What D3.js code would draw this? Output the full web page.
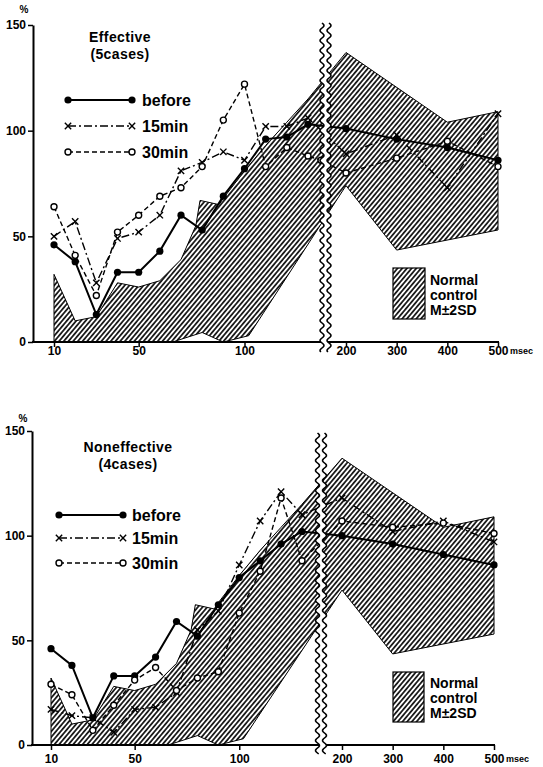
<!DOCTYPE html>
<html>
<head>
<meta charset="utf-8">
<script src="https://cdn.jsdelivr.net/npm/d3@7"></script>
<style>
  body { margin: 0; background: #fff; }
  svg text { font-family: "Liberation Sans", Arial, sans-serif; font-weight: bold; fill: #000; }
</style>
</head>
<body>
<div id="content"></div>
<script>
"use strict";

// intervals (msec); null = no point at that interval
var intervals = [10, 20, 30, 40, 50, 60, 70, 80, 90, 100, 110, 120, 130, 140, 200, 300, 400, 500];

var effBefore = [46, 38, 13, 33, 33, 43, 60, 53, 69, 82, 96, 97, 103, null, 101, 96, 92, 86];
var effMin15  = [50, 57, 28, 49, 52, 60, 81, 85, 90, 86, 102, 102, 106, null, 89, 98, 73, 108];
var effMin30  = [64, 41, 22, 52, 60, 69, 73, 83, 105, 122, 83, 92, 88, 86, 80, 87, 95, 83];

var nonBefore = [46, 38, 13, 33, 33, 42, 59, 52, 67, 80, 88, 96, 102, null, 100, 96, 91, 86];
var nonMin15  = [17, 14, 13, 6, 17, 18, 25, 55, 64, 86, 107, 121, 110, null, 118, 102, 107, 97];
var nonMin30  = [29, 24, 7, 19, 31, 37, 26, 32, 35, 63, 83, 118, 88, null, 107, 104, 106, 101];

// normal control M±2SD band
var bandUpperMs = [10, 20, 30, 40, 50, 60, 70, 77, 79, 88, 90, 100, 110, 120, 130, 200, 400, 500];
var bandUpper   = [32, 10, 12, 28, 26, 29, 39, 55, 67, 65, 68, 81, 93, 104, 115, 137, 104, 109];
var bandLowerMs = [10, 66, 80, 90, 102, 200, 300, 500];
var bandLower   = [0, 0, 4.5, 0, 3, 74, 43.5, 53];

var xTicks = [10, 50, 100, 200, 300, 400, 500];
var yTicks = [0, 50, 100, 150];
var seriesNames = ["before", "15min", "30min"];
var bandLabel = ["Normal", "control", "M\u00b12SD"];

var width = 543, height = 767;
var svg = d3.select('#content').append('svg')
  .attr('width', width)
  .attr('height', height);

var defs = svg.append('defs');
var pat = defs.append('pattern')
  .attr('id', 'hatch')
  .attr('patternUnits', 'userSpaceOnUse')
  .attr('width', 3.6).attr('height', 3.6)
  .attr('patternTransform', 'rotate(40)');
pat.append('rect').attr('width', 3.6).attr('height', 3.6).attr('fill', '#fff');
pat.append('line').attr('x1', 1.8).attr('x2', 1.8).attr('y1', 0).attr('y2', 3.6)
  .attr('stroke', '#000').attr('stroke-width', 1.6);

var panels = [
  { title: "Effective", sub: "(5cases)", series: [effBefore, effMin15, effMin30],
    axisX: 33, y0: 342, y150: 25, xr: [54, 308, 321, 346, 498], breakX: 325.5, breakY: [23, 352],
    titleX: 120, titleY: 42, subY: 59, pctY: 13,
    legX: [68, 132], legTextX: 142, legY: [100, 126, 152],
    boxX: 393, boxY: 268, boxW: 32, boxH: 51, boxTextY: [285, 300, 315],
    tickLabelY: 355 },
  { title: "Noneffective", sub: "(4cases)", series: [nonBefore, nonMin15, nonMin30],
    axisX: 32, y0: 745, y150: 431, xr: [51, 302, 316, 342, 494], breakX: 321, breakY: [433, 754],
    titleX: 128, titleY: 452, subY: 469, pctY: 422,
    legX: [59, 123], legTextX: 132, legY: [515, 538, 563],
    boxX: 393, boxY: 672, boxW: 31, boxH: 50, boxTextY: [688, 703, 718],
    tickLabelY: 763 }
];

var styles = [
  { dash: null, width: 2 },
  { dash: '8,3,2,3', width: 1.4 },
  { dash: '5,3', width: 1.4 }
];

function drawMarker(g, k, px, py) {
  if (k === 0) {
    g.append('circle').attr('cx', px).attr('cy', py).attr('r', 3.6).attr('fill', '#000');
  } else if (k === 1) {
    g.append('path').attr('d', d3.symbol(d3.symbolTimes, 28)())
      .attr('transform', 'translate(' + px + ',' + py + ')')
      .attr('fill', 'none').attr('stroke', '#000').attr('stroke-width', 1.4);
  } else {
    g.append('circle').attr('cx', px).attr('cy', py).attr('r', 3)
      .attr('fill', '#fff').attr('stroke', '#000').attr('stroke-width', 1.4);
  }
}

panels.forEach(function(p) {
  var x = d3.scaleLinear().domain([10, 130, 140, 200, 500]).range(p.xr);
  var y = d3.scaleLinear().domain([0, 150]).range([p.y0, p.y150]);
  var g = svg.append('g');

  // band
  var upper = bandUpperMs.map(function(m, i) { return [x(m), y(bandUpper[i])]; });
  var lower = bandLowerMs.map(function(m, i) { return [x(m), y(bandLower[i])]; }).reverse();
  g.append('path')
    .attr('d', d3.line()(upper.concat(lower)) + 'Z')
    .attr('fill', 'url(#hatch)')
    .attr('stroke', '#000').attr('stroke-width', 1);

  // series
  p.series.forEach(function(vals, k) {
    var pts = intervals.map(function(m, i) { return [m, vals[i]]; })
      .filter(function(d) { return d[1] != null; });
    g.append('path')
      .attr('d', d3.line().x(function(d) { return x(d[0]); }).y(function(d) { return y(d[1]); })(pts))
      .attr('fill', 'none').attr('stroke', '#000')
      .attr('stroke-width', styles[k].width)
      .attr('stroke-dasharray', styles[k].dash);
    pts.forEach(function(d) { drawMarker(g, k, x(d[0]), y(d[1])); });
  });

  // axes
  var ya = g.append('g').attr('transform', 'translate(' + p.axisX + ',0)')
    .call(d3.axisLeft(y).tickValues(yTicks).tickSize(5).tickSizeOuter(0).tickPadding(2));
  ya.select('.domain').attr('stroke-width', 2);
  ya.selectAll('.tick line').attr('stroke-width', 1.5);
  ya.selectAll('text').style('font-size', '12px').attr('font-family', null);

  g.append('line')
    .attr('x1', p.axisX - 1).attr('x2', x(500) + 1)
    .attr('y1', p.y0).attr('y2', p.y0)
    .attr('stroke', '#000').attr('stroke-width', 2.2);
  var xa = g.append('g').attr('transform', 'translate(0,' + p.y0 + ')')
    .call(d3.axisBottom(x).tickValues(xTicks).tickSize(5).tickPadding(3));
  xa.select('.domain').remove();
  xa.selectAll('.tick line').attr('stroke-width', 1.5);
  xa.selectAll('text').style('font-size', '12px').attr('font-family', null)
    .attr('dy', null).attr('y', p.tickLabelY - p.y0);

  g.append('text').attr('x', x(500) + 12).attr('y', p.tickLabelY - 1)
    .style('font-size', '9px').text('msec');
  g.append('text').attr('x', p.axisX - 9).attr('y', p.pctY).attr('text-anchor', 'middle')
    .style('font-size', '10px').text('%');

  // axis break
  var y1 = p.breakY[0], y2 = p.breakY[1];
  var wave = function(off) {
    return d3.range(y1, y2 + 0.5, 1).map(function(v) {
      return [p.breakX + off + 2 * Math.sin((v - y1) / 10 * 2 * Math.PI), v];
    });
  };
  var left = wave(-3.5), right = wave(3.5);
  g.append('path').attr('d', d3.line()(left.concat(right.slice().reverse())) + 'Z')
    .attr('fill', '#fff');
  [left, right].forEach(function(w) {
    g.append('path').attr('d', d3.line()(w))
      .attr('fill', 'none').attr('stroke', '#000').attr('stroke-width', 1.6);
  });

  // titles
  g.append('text').attr('x', p.titleX).attr('y', p.titleY).attr('text-anchor', 'middle')
    .style('font-size', '14px').style('letter-spacing', '0.4px').text(p.title);
  g.append('text').attr('x', p.titleX).attr('y', p.subY).attr('text-anchor', 'middle')
    .style('font-size', '14px').style('letter-spacing', '0.4px').text(p.sub);

  // legend
  seriesNames.forEach(function(name, k) {
    var ly = p.legY[k];
    g.append('line').attr('x1', p.legX[0]).attr('x2', p.legX[1]).attr('y1', ly).attr('y2', ly)
      .attr('stroke', '#000').attr('stroke-width', styles[k].width)
      .attr('stroke-dasharray', styles[k].dash);
    drawMarker(g, k, p.legX[0], ly);
    drawMarker(g, k, p.legX[1], ly);
    g.append('text').attr('x', p.legTextX).attr('y', ly + 5.5)
      .style('font-size', '16px').text(name);
  });

  g.append('rect').attr('x', p.boxX).attr('y', p.boxY).attr('width', p.boxW).attr('height', p.boxH)
    .attr('fill', 'url(#hatch)').attr('stroke', '#000').attr('stroke-width', 1.2);
  bandLabel.forEach(function(t, i) {
    g.append('text').attr('x', p.boxX + 37).attr('y', p.boxTextY[i])
      .style('font-size', '14px').text(t);
  });
});
</script>
</body>
</html>
